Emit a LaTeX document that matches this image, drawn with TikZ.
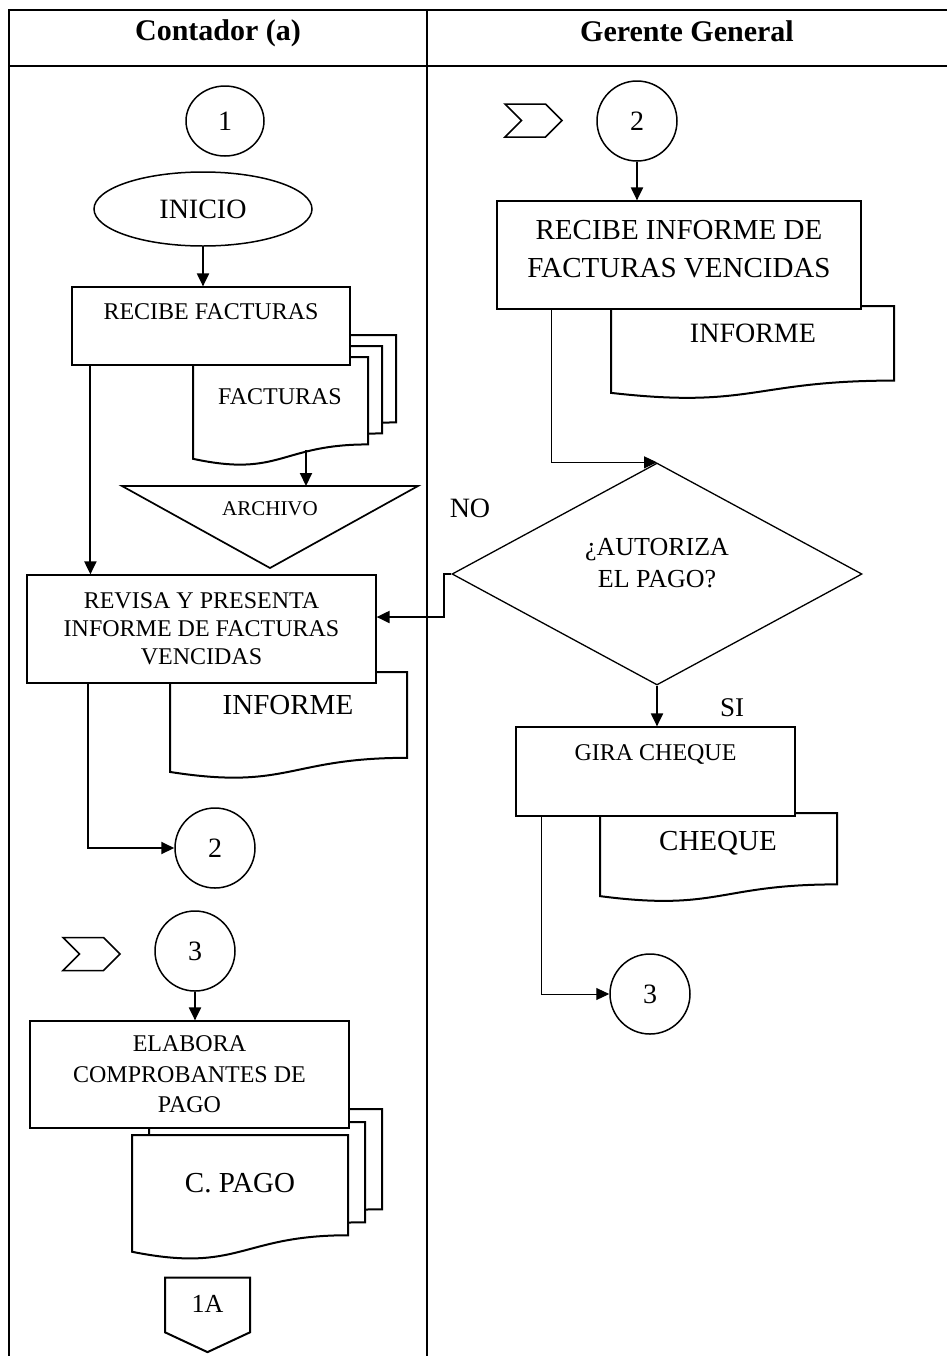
\documentclass[tikz,border=0pt]{standalone}
\usepackage{fontspec}
\setmainfont{Liberation Serif}
\usetikzlibrary{shapes.geometric, shapes.symbols, arrows.meta}

% document symbol: left, top, right, height
\newcommand{\docu}[4]{%
  \filldraw[fill=white, line width=1pt] (#1,#2) -- (#3,#2) -- (#3,{#2+0.802*#4})
    .. controls ({(#1+#3)/2},{#2+0.802*#4}) and ({(#1+#3)/2},{#2+1.1075*#4}) .. (#1,{#2+0.934*#4}) -- cycle;}

\begin{document}
\begin{tikzpicture}[x=0.5pt, y=-0.5pt]
    \tikzstyle{proc} = [rectangle, draw, fill=white, line width=0.6pt, align=center,
                                      font=\fontsize{12}{14}\selectfont]
    \tikzstyle{conn} = [circle, draw, fill=white, line width=0.75pt, minimum size=40pt, inner sep=0pt,
                                      font=\fontsize{14}{16}\selectfont]
    \tikzstyle{chev} = [signal, signal to=east, signal from=west, draw, line width=0.75pt,
                                      minimum width=28.5pt, minimum height=16.5pt, inner sep=0pt]
    \tikzstyle{big} = [font=\fontsize{14.5}{17}\selectfont]
    \tikzstyle{arr} = [-{Triangle[length=6.5pt, width=6pt]}, line width=1pt]
    \tikzstyle{thinarr} = [-{Triangle[length=6.5pt, width=6pt]}, line width=0.5pt]
    \tikzstyle{lane} = [line width=1pt]
  \useasboundingbox (0,0) rectangle (947,1356);
  % lanes
  \draw[lane] (950,10) -- (9,10) -- (9,1360);
  \draw[lane] (9,66) -- (950,66);
  \draw[lane] (427,10) -- (427,1360);
  \node[font=\bfseries\fontsize{15}{18}\selectfont] (contador) at (218,33) {Contador (a)};
  \node[font=\bfseries\fontsize{15}{18}\selectfont] (gerente) at (687,31) {Gerente General};
  % Contador
  \node[conn, ellipse, minimum width=39pt, minimum height=35pt] (uno) at (225,121) {1};
  \node[draw, ellipse, line width=0.75pt, minimum width=109pt, minimum height=37pt,
        font=\fontsize{14}{16}\selectfont] (inicio) at (203,209) {INICIO};
  \docu{221}{335}{396}{109}
  \docu{207}{346}{382}{109}
  \docu{193}{357}{368}{109}
  \node[font=\fontsize{12}{14}\selectfont] (facturas) at (280,397) {FACTURAS};
  \node[proc, minimum width=139pt, minimum height=39pt, text depth=14pt] (recibe) at (211,326) {RECIBE FACTURAS};
  \coordinate (factbot) at (306,450);
  \coordinate (archtop) at (306,486);
  \draw[line width=0.85pt] (122,486) -- (418,486) -- (270,568) -- cycle;
  \node[font=\fontsize{10.5}{12}\selectfont] (archivo) at (270,509) {ARCHIVO};
  \docu{170}{672}{407}{107}
  \node[big] (informe1) at (288,705) {INFORME};
  \node[proc, minimum width=174.5pt, minimum height=54pt] (revisa) at (201.5,629)
       {REVISA Y PRESENTA\\INFORME DE FACTURAS\\VENCIDAS};
  \node[conn] (dos1) at (215,848) {2};
  \node[chev] (chev3) at (91.5,954) {};
  \node[conn] (tres1) at (195,951) {3};
  \docu{166}{1109}{382}{125}
  \docu{149}{1122}{365}{125}
  \docu{132}{1135}{348}{125}
  \node[big] (cpago) at (240,1183) {C. PAGO};
  \node[proc, minimum width=159.5pt, minimum height=53.5pt, font=\fontsize{12}{15.25}\selectfont] (elabora)
       at (189.5,1074.5) {ELABORA\\COMPROBANTES DE\\PAGO};
  \node[signal, signal to=south, signal pointer angle=130, draw, line width=1pt, minimum width=42.5pt,
        minimum height=31pt, inner sep=0pt, text depth=1.5pt, font=\fontsize{13}{15}\selectfont] (unoa)
       at (207.5,1305) {1A};
  % Gerente General
  \node[chev] (chev2) at (533.5,120.5) {};
  \node[conn] (dos2) at (637,121) {2};
  \docu{611}{306}{894}{93}
  \node[font=\fontsize{14}{16}\selectfont] (informe2) at (753,333) {INFORME};
  \node[proc, minimum width=182pt, minimum height=54pt, font=\fontsize{14.5}{19}\selectfont,
        text depth=6pt] (recibeinf) at (679,255) {RECIBE INFORME DE\\FACTURAS VENCIDAS};
  \node[draw, diamond, aspect=1.85, line width=0.65pt, minimum width=205pt, minimum height=111pt,
        inner sep=0pt, align=center, font=\fontsize{13}{16}\selectfont, text depth=11pt] (autoriza)
       at (657,574) {¿AUTORIZA\\EL PAGO?};
  \node[font=\fontsize{14}{16}\selectfont] (no) at (470,508) {NO};
  \node[font=\fontsize{13.5}{16}\selectfont] (si) at (732,708) {SI};
  \docu{600}{813}{837}{89}
  \node[big] (cheque) at (718,843) {CHEQUE};
  \node[proc, minimum width=139.5pt, minimum height=44.5pt, text depth=18.5pt] (gira) at (655.5,771.5) {GIRA CHEQUE};
  \node[conn] (tres2) at (650,994) {3};
  % flow
  \draw[arr] (inicio.south) -- (inicio.south |- recibe.north);
  \draw[arr] ([xshift=9.5pt]recibe.south west) coordinate (r1) -- (r1 |- revisa.north);
  \draw[arr] (factbot) -- (archtop);
  \draw[arr] ([xshift=31pt]revisa.south west) |- (dos1.west);
  \draw[arr] (tres1.south) -- (tres1.south |- elabora.north);
  \draw[arr] (dos2.south) -- (dos2.south |- recibeinf.north);
  \draw[thinarr] ([xshift=27.5pt]recibeinf.south west) |- (autoriza.north);
  \draw[arr] (autoriza.west) -- ++(-7,0) |- ([yshift=6pt]revisa.east);
  \draw[arr] (autoriza.south) -- (autoriza.south |- gira.north);
  \draw[thinarr] ([xshift=13pt]gira.south west) |- (tres2.west);
\end{tikzpicture}
\end{document}
